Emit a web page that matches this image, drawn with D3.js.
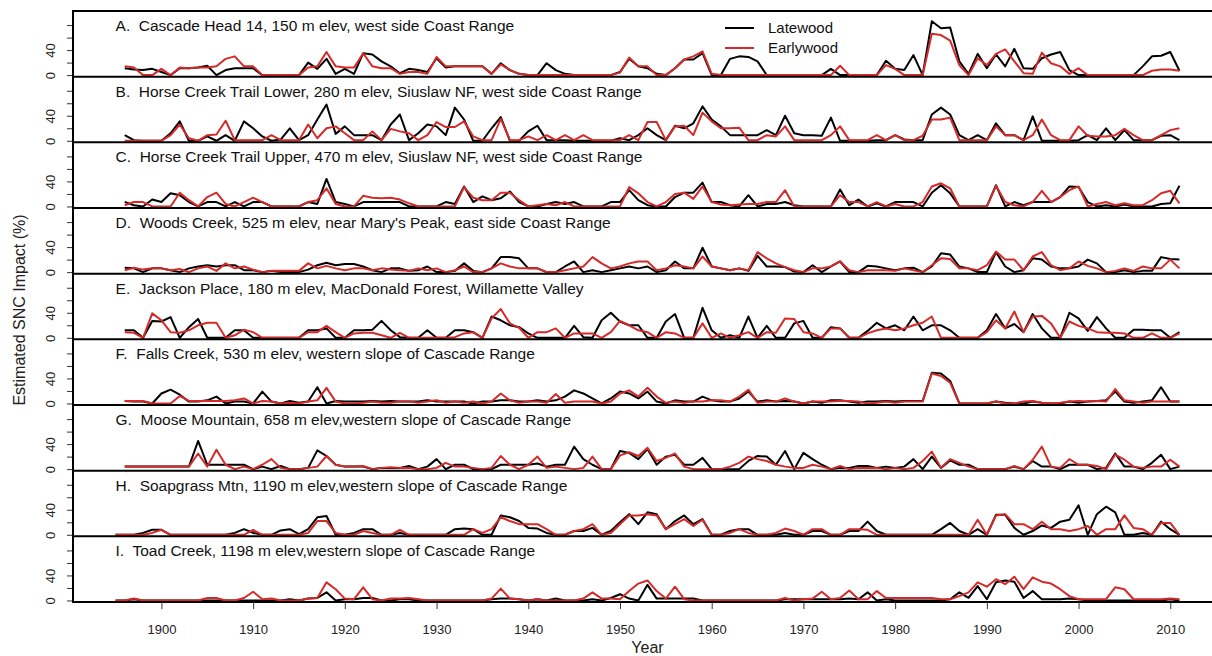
<!DOCTYPE html>
<html lang="en">
<head>
<meta charset="UTF-8">
<title>Estimated SNC Impact</title>
<script src="https://d3js.org/d3.v7.min.js"></script>
<style>
  body { margin: 0; background: #fff; }
  svg { display: block; font-family: "Liberation Sans", Arial, sans-serif; }
</style>
</head>
<body>
<div id="chart"></div>
<script>
// years run 1895..2011, one value per year (null = no ring data yet)
const firstYear = 1895;
const lastYear = 2011;
const xTicks = [1900, 1910, 1920, 1930, 1940, 1950, 1960, 1970, 1980, 1990, 2000, 2010];
const yTicks = [0, 20, 40, 60, 80];
const yLabelled = [0, 40];
const seriesNames = ["Latewood", "Earlywood"];

const titles = [
  "A.  Cascade Head 14, 150 m elev, west side Coast Range",
  "B.  Horse Creek Trail Lower, 280 m elev, Siuslaw NF, west side Coast Range",
  "C.  Horse Creek Trail Upper, 470 m elev, Siuslaw NF, west side Coast Range",
  "D.  Woods Creek, 525 m elev, near Mary's Peak, east side Coast Range",
  "E.  Jackson Place, 180 m elev, MacDonald Forest, Willamette Valley",
  "F.  Falls Creek, 530 m elev, western slope of Cascade Range",
  "G.  Moose Mountain, 658 m elev,western slope of Cascade Range",
  "H.  Soapgrass Mtn, 1190 m elev,western slope of Cascade Range",
  "I.  Toad Creek, 1198 m elev,western slope of Cascade Range"
];

const lateA = [null, 11, 9, 8, 10,
  5, 0, 11, 11, 12, 15, 0, 8, 11, 11,
  11, 0, 0, 0, 0, 0, 20, 10, 26, 2,
  10, 2, 35, 33, 22, 14, 3, 10, 8, 5,
  27, 12, 14, 14, 14, 14, 2, 19, 8, 2,
  0, 0, 19, 8, 2, 0, 0, 0, 0, 0,
  5, 26, 14, 11, 2, 0, 11, 25, 25, 35,
  0, 0, 26, 30, 29, 22, 0, 0, 0, 0,
  0, 0, 0, 10, 0, 0, 0, 0, 0, 23,
  10, 8, 32, 0, 86, 75, 76, 22, 2, 34,
  11, 33, 14, 42, 11, 10, 27, 33, 37, 8,
  0, 0, 0, 0, 0, 0, 0, 14, 30, 31,
  37, 7];
const earlyA = [null, 14, 12, 0, 0,
  10, 0, 12, 11, 12, 12, 14, 26, 30, 14,
  14, 0, 0, 0, 0, 0, 12, 14, 37, 14,
  12, 12, 35, 14, 11, 11, 2, 5, 5, 2,
  29, 14, 14, 14, 14, 14, 2, 17, 8, 2,
  0, 0, 0, 0, 0, 0, 0, 0, 0, 0,
  4, 28, 14, 14, 0, 0, 11, 25, 30, 38,
  2, 0, 0, 0, 0, 0, 0, 0, 0, 0,
  0, 0, 0, 0, 15, 0, 0, 0, 0, 16,
  10, 0, 0, 0, 66, 64, 55, 16, 0, 27,
  16, 34, 41, 22, 3, 2, 36, 19, 14, 2,
  11, 0, 0, 0, 0, 0, 0, 0, 7, 9,
  9, 7];

const lateB = [null, 9, 1, 0, 0,
  0, 12, 31, 0, 0, 7, 0, 9, 0, 31,
  20, 7, 0, 2, 20, 1, 9, 34, 58, 11,
  23, 9, 9, 9, 1, 26, 42, 1, 12, 26,
  23, 9, 53, 34, 0, 0, 20, 38, 0, 0,
  15, 24, 1, 1, 1, 0, 0, 0, 0, 0,
  4, 1, 9, 20, 9, 1, 24, 20, 28, 55,
  34, 23, 9, 9, 9, 9, 17, 9, 40, 12,
  9, 9, 8, 37, 0, 0, 0, 0, 1, 1,
  9, 2, 1, 1, 42, 53, 42, 9, 1, 9,
  1, 28, 9, 9, 1, 39, 0, 0, 0, 0,
  1, 9, 1, 20, 1, 17, 1, 1, 1, 8,
  9, 1];
const earlyB = [null, 0, 0, 0, 0,
  0, 9, 26, 4, 0, 9, 10, 32, 1, 1,
  1, 1, 9, 1, 1, 1, 26, 4, 20, 23,
  12, 1, 1, 15, 1, 19, 15, 12, 1, 9,
  30, 22, 22, 31, 7, 1, 1, 35, 1, 1,
  7, 1, 9, 1, 9, 1, 9, 1, 1, 1,
  1, 9, 1, 30, 30, 1, 23, 24, 9, 45,
  31, 20, 20, 21, 1, 1, 9, 7, 23, 1,
  1, 1, 1, 9, 23, 1, 1, 1, 9, 1,
  9, 1, 1, 8, 34, 34, 37, 1, 1, 1,
  1, 23, 9, 9, 1, 9, 34, 9, 1, 1,
  23, 8, 7, 7, 9, 19, 9, 1, 1, 9,
  17, 20];

const lateC = [null, 7, 2, 0, 11,
  7, 21, 18, 7, 0, 7, 7, 0, 7, 0,
  7, 7, 0, 0, 0, 0, 7, 4, 44, 7,
  4, 0, 7, 7, 7, 7, 7, 0, 0, 0,
  0, 7, 4, 32, 7, 16, 10, 13, 24, 7,
  0, 0, 4, 7, 4, 7, 0, 0, 0, 7,
  7, 26, 10, 2, 0, 0, 15, 22, 22, 38,
  7, 7, 2, 0, 18, 0, 4, 4, 7, 2,
  0, 0, 0, 0, 27, 2, 11, 0, 5, 0,
  7, 7, 7, 0, 22, 34, 21, 0, 0, 0,
  0, 34, 0, 7, 2, 7, 7, 7, 15, 32,
  31, 7, 0, 2, 0, 3, 0, 0, 0, 4,
  5, 33];
const earlyC = [null, 2, 7, 7, 0,
  0, 0, 22, 10, 0, 15, 22, 4, 0, 7,
  14, 7, 0, 0, 0, 0, 7, 10, 29, 4,
  0, 0, 17, 14, 13, 14, 11, 5, 0, 0,
  0, 0, 0, 31, 14, 10, 10, 22, 22, 10,
  0, 2, 4, 2, 7, 0, 0, 0, 0, 0,
  0, 31, 21, 7, 0, 7, 20, 22, 12, 32,
  7, 3, 2, 3, 4, 4, 7, 7, 26, 0,
  0, 0, 0, 0, 18, 7, 7, 0, 7, 0,
  4, 0, 0, 7, 32, 37, 29, 0, 0, 0,
  0, 33, 7, 2, 0, 7, 25, 7, 15, 26,
  32, 0, 4, 7, 2, 5, 2, 2, 10, 21,
  25, 5];

const lateD = [null, 7, 6, 0, 6,
  6, 3, 0, 6, 9, 11, 9, 11, 11, 3,
  3, 0, 2, 0, 0, 0, 4, 11, 15, 11,
  13, 13, 9, 3, 0, 6, 6, 2, 3, 9,
  0, 0, 2, 14, 2, 0, 6, 24, 24, 22,
  6, 6, 0, 0, 9, 17, 0, 3, 0, 3,
  6, 9, 6, 9, 0, 3, 17, 6, 6, 39,
  9, 6, 3, 6, 2, 26, 9, 9, 8, 1,
  0, 11, 0, 9, 17, 0, 0, 10, 9, 6,
  3, 6, 7, 0, 9, 30, 28, 9, 6, 0,
  0, 32, 9, 0, 3, 22, 20, 9, 6, 6,
  9, 20, 14, 0, 0, 3, 0, 2, 2, 24,
  21, 20];
const earlyD = [null, 3, 7, 4, 6,
  6, 3, 5, 0, 6, 9, 2, 14, 6, 9,
  4, 0, 2, 2, 2, 2, 14, 6, 10, 6,
  3, 6, 6, 3, 6, 4, 3, 2, 6, 3,
  6, 0, 3, 9, 0, 0, 6, 14, 9, 6,
  6, 6, 0, 0, 3, 6, 9, 24, 14, 6,
  9, 14, 17, 17, 3, 6, 11, 9, 6, 25,
  9, 6, 3, 6, 3, 32, 22, 14, 8, 3,
  0, 6, 6, 9, 17, 3, 0, 3, 3, 3,
  2, 6, 3, 0, 11, 22, 21, 6, 6, 3,
  11, 33, 20, 20, 3, 25, 32, 11, 3, 6,
  17, 10, 6, 0, 2, 6, 2, 9, 6, 6,
  20, 6];

const lateE = [null, 12, 12, 0, 27,
  26, 33, 0, 17, 30, 0, 0, 0, 12, 12,
  0, 0, 0, 0, 0, 0, 12, 12, 15, 0,
  0, 12, 12, 13, 27, 12, 1, 0, 0, 12,
  0, 0, 12, 12, 9, 0, 34, 28, 20, 17,
  7, 0, 0, 0, 0, 19, 1, 0, 28, 40,
  26, 20, 20, 0, 0, 26, 38, 0, 0, 48,
  12, 0, 4, 0, 34, 0, 19, 0, 0, 23,
  27, 0, 0, 17, 15, 0, 0, 11, 24, 15,
  20, 12, 34, 12, 20, 20, 12, 0, 0, 0,
  12, 38, 15, 22, 9, 38, 15, 0, 0, 40,
  31, 11, 33, 15, 0, 0, 13, 13, 12, 12,
  0, 9];
const earlyE = [null, 9, 8, 0, 39,
  28, 9, 8, 12, 20, 24, 24, 0, 4, 13,
  9, 0, 0, 0, 0, 0, 9, 9, 19, 9,
  0, 7, 8, 8, 4, 0, 8, 0, 0, 0,
  0, 0, 1, 7, 9, 0, 31, 46, 23, 16,
  0, 9, 9, 15, 0, 7, 7, 7, 0, 9,
  27, 20, 12, 9, 0, 9, 7, 0, 0, 23,
  0, 7, 0, 4, 9, 0, 9, 8, 31, 30,
  9, 7, 0, 15, 15, 0, 0, 7, 12, 15,
  12, 15, 20, 24, 34, 0, 0, 0, 0, 0,
  9, 28, 15, 42, 9, 34, 35, 23, 0, 26,
  19, 15, 9, 8, 8, 7, 0, 0, 7, 0,
  0, 7];

const lateF = [null, 4, 3, 3, 0,
  16, 22, 14, 3, 3, 5, 11, 0, 3, 3,
  0, 19, 3, 0, 4, 1, 3, 26, 0, 4,
  3, 3, 3, 4, 3, 4, 3, 3, 3, 5,
  3, 3, 3, 3, 0, 3, 3, 5, 5, 3,
  3, 5, 3, 5, 11, 21, 16, 8, 0, 8,
  19, 16, 8, 19, 3, 0, 5, 3, 3, 11,
  5, 3, 3, 8, 19, 3, 5, 3, 4, 3,
  0, 3, 1, 5, 5, 3, 1, 3, 3, 4,
  3, 4, 4, 4, 49, 48, 36, 0, 0, 0,
  0, 3, 1, 0, 0, 3, 1, 0, 0, 3,
  1, 3, 4, 5, 19, 3, 1, 3, 5, 26,
  3, 3];
const earlyF = [null, 4, 4, 4, 0,
  0, 0, 12, 4, 4, 4, 4, 4, 5, 8,
  0, 4, 3, 0, 1, 0, 3, 5, 25, 3,
  0, 0, 1, 3, 1, 1, 3, 3, 1, 3,
  5, 1, 3, 1, 3, 0, 3, 16, 5, 1,
  3, 3, 1, 15, 1, 3, 3, 3, 0, 3,
  16, 21, 11, 25, 11, 1, 3, 1, 3, 3,
  5, 5, 3, 11, 22, 1, 3, 3, 8, 3,
  0, 3, 3, 3, 4, 4, 3, 0, 1, 3,
  1, 3, 3, 3, 48, 44, 33, 0, 0, 0,
  0, 3, 0, 0, 3, 4, 1, 0, 1, 3,
  4, 3, 4, 3, 23, 5, 3, 1, 3, 3,
  3, 3];

const lateG = [null, 4, 4, 4, 4,
  4, 4, 4, 4, 45, 7, 7, 7, 7, 7,
  0, 4, 0, 5, 0, 0, 2, 30, 21, 7,
  4, 4, 4, 0, 2, 2, 2, 5, 0, 4,
  16, 0, 7, 7, 0, 0, 0, 7, 7, 7,
  7, 9, 4, 7, 7, 36, 16, 7, 0, 0,
  29, 26, 16, 32, 7, 20, 23, 7, 7, 18,
  0, 0, 0, 0, 13, 21, 20, 7, 29, 0,
  26, 16, 7, 0, 2, 2, 5, 5, 2, 4,
  2, 4, 16, 0, 20, 2, 14, 7, 7, 0,
  0, 0, 0, 4, 0, 13, 4, 4, 0, 7,
  7, 7, 0, 2, 25, 4, 4, 0, 10, 23,
  0, 4];
const earlyG = [null, 4, 4, 4, 4,
  4, 4, 4, 4, 25, 4, 31, 7, 0, 4,
  0, 7, 16, 2, 0, 0, 2, 4, 21, 7,
  4, 4, 5, 0, 2, 3, 2, 2, 0, 0,
  2, 10, 4, 4, 2, 0, 2, 21, 7, 0,
  7, 20, 2, 4, 2, 0, 2, 20, 0, 0,
  22, 27, 21, 34, 13, 18, 25, 4, 0, 0,
  0, 0, 4, 10, 20, 16, 13, 7, 4, 2,
  2, 7, 4, 0, 5, 0, 2, 2, 2, 0,
  2, 0, 2, 13, 28, 2, 16, 10, 4, 0,
  0, 0, 0, 5, 0, 15, 36, 4, 2, 16,
  7, 7, 5, 0, 23, 15, 4, 2, 4, 4,
  15, 4];

const lateH = [0, 0, 0, 3, 8,
  8, 0, 0, 0, 0, 0, 0, 0, 3, 9,
  3, 0, 0, 7, 9, 1, 9, 28, 30, 0,
  0, 3, 9, 9, 0, 0, 3, 0, 0, 0,
  0, 0, 9, 10, 9, 0, 0, 31, 28, 22,
  11, 10, 3, 0, 0, 6, 6, 11, 0, 6,
  20, 33, 17, 36, 33, 9, 22, 31, 17, 25,
  0, 0, 6, 9, 9, 0, 0, 0, 3, 0,
  0, 6, 6, 0, 0, 6, 6, 21, 6, 0,
  0, 0, 0, 0, 0, 9, 19, 6, 0, 9,
  0, 32, 32, 11, 0, 6, 15, 11, 21, 24,
  47, 0, 33, 45, 36, 0, 0, 3, 0, 21,
  9, 0];
const earlyH = [0, 0, 0, 0, 3,
  8, 0, 0, 0, 0, 0, 0, 0, 0, 0,
  8, 0, 0, 0, 0, 0, 3, 22, 22, 3,
  0, 0, 6, 3, 0, 0, 8, 0, 0, 0,
  0, 0, 0, 0, 9, 3, 9, 28, 22, 17,
  17, 17, 9, 0, 0, 6, 9, 17, 0, 3,
  17, 31, 31, 33, 31, 9, 17, 25, 14, 24,
  0, 0, 3, 9, 3, 0, 0, 3, 10, 6,
  0, 9, 9, 0, 0, 9, 9, 8, 0, 0,
  0, 0, 0, 0, 0, 0, 0, 0, 0, 24,
  0, 31, 33, 17, 17, 9, 21, 9, 9, 6,
  9, 14, 0, 9, 9, 31, 11, 9, 0, 19,
  19, 0];

const lateI = [0, 0, 2, 0, 0,
  0, 0, 0, 0, 0, 0, 0, 0, 0, 0,
  0, 0, 0, 0, 2, 0, 3, 4, 13, 0,
  2, 2, 4, 4, 0, 0, 2, 2, 0, 0,
  0, 0, 0, 0, 0, 0, 2, 3, 3, 2,
  0, 2, 0, 3, 0, 0, 0, 2, 0, 4,
  10, 3, 0, 25, 3, 3, 3, 3, 3, 0,
  0, 0, 0, 0, 0, 0, 0, 0, 2, 2,
  2, 2, 2, 2, 2, 3, 2, 13, 0, 2,
  0, 0, 0, 0, 0, 0, 2, 13, 4, 23,
  2, 29, 32, 30, 4, 15, 2, 2, 2, 3,
  2, 0, 0, 0, 0, 0, 0, 0, 0, 0,
  2, 0];
const earlyI = [0, 0, 3, 0, 0,
  0, 0, 0, 0, 0, 4, 4, 0, 0, 4,
  14, 2, 3, 0, 0, 0, 3, 4, 29, 18,
  3, 2, 21, 2, 0, 3, 3, 4, 2, 0,
  0, 0, 0, 0, 0, 0, 3, 19, 3, 2,
  0, 2, 0, 0, 0, 0, 3, 13, 3, 3,
  2, 15, 27, 32, 15, 3, 22, 2, 0, 0,
  0, 0, 0, 0, 0, 0, 0, 0, 4, 0,
  2, 3, 14, 2, 4, 16, 2, 2, 15, 4,
  4, 4, 4, 4, 4, 2, 2, 7, 13, 29,
  22, 34, 26, 38, 18, 37, 30, 27, 18, 7,
  2, 2, 2, 2, 21, 18, 2, 2, 2, 2,
  3, 2];

const latewood = [lateA, lateB, lateC, lateD, lateE, lateF, lateG, lateH, lateI];
const earlywood = [earlyA, earlyB, earlyC, earlyD, earlyE, earlyF, earlyG, earlyH, earlyI];
const colors = ["#000000", "#d42a2a"];

const W = 1212, H = 656;
const plotLeft = 73, plotTop = 11, panelH = 65.67;
const years = d3.range(firstYear, lastYear + 1);

// R style: axis runs 4% beyond the data on both ends (right edge falls off the picture)
const x = d3.scaleLinear().domain([1890.36, 2015.64]).range([plotLeft, 1222]);
const y = d3.scaleLinear().domain([-2.5, 102.5]).range([panelH, 0]);

const svg = d3.select("#chart").append("svg")
  .attr("width", W)
  .attr("height", H)
  .style("background", "#fff");

const line = d3.line()
  .defined(d => d.v != null)
  .x(d => x(d.year))
  .y(d => y(d.v));

titles.forEach(function (title, i) {
  const g = svg.append("g")
    .attr("transform", "translate(0," + (plotTop + i * panelH) + ")");

  // y ticks, only 0 and 40 labelled, labels parallel to axis
  const ax = g.append("g")
    .attr("transform", "translate(" + plotLeft + ",0)")
    .call(d3.axisLeft(y).tickValues(yTicks).tickSize(6)
      .tickFormat(d => yLabelled.includes(d) ? d : ""));
  ax.select(".domain").remove();
  ax.selectAll(".tick line").attr("stroke", "#333");
  ax.selectAll(".tick text")
    .attr("x", null).attr("dy", null)
    .attr("text-anchor", "middle")
    .attr("transform", "translate(-18,0) rotate(-90)")
    .style("font-size", "13px")
    .style("fill", "#222");

  [latewood[i], earlywood[i]].forEach(function (vals, k) {
    const pts = years.map((yr, j) => ({ year: yr, v: vals[j] }));
    g.append("path")
      .datum(pts)
      .attr("fill", "none")
      .attr("stroke", colors[k])
      .attr("stroke-width", 2)
      .attr("stroke-linejoin", "round")
      .attr("d", line);
  });

  g.append("text")
    .attr("x", x(1895))
    .attr("y", 20)
    .style("white-space", "pre")
    .style("font-size", "15.5px")
    .style("fill", "#111")
    .text(title);

  // panel bottom edge
  g.append("line")
    .attr("x1", plotLeft).attr("x2", W)
    .attr("y1", panelH).attr("y2", panelH)
    .attr("stroke", "#000").attr("stroke-width", 2);
});

// outer frame: top and left
svg.append("line")
  .attr("x1", plotLeft).attr("x2", W)
  .attr("y1", plotTop).attr("y2", plotTop)
  .attr("stroke", "#000").attr("stroke-width", 2);
svg.append("line")
  .attr("x1", plotLeft).attr("x2", plotLeft)
  .attr("y1", plotTop - 1).attr("y2", plotTop + 9 * panelH + 1)
  .attr("stroke", "#000").attr("stroke-width", 2);

// x axis under the last panel
const bottom = plotTop + 9 * panelH;
const xa = svg.append("g")
  .attr("transform", "translate(0," + bottom + ")")
  .call(d3.axisBottom(x).tickValues(xTicks).tickSize(7).tickPadding(16).tickFormat(d3.format("d")));
xa.select(".domain").remove();
xa.selectAll(".tick line").attr("stroke", "#333");
xa.selectAll(".tick text").style("font-size", "13px").style("fill", "#222");

svg.append("text")
  .attr("x", (plotLeft + 1222) / 2)
  .attr("y", 653)
  .attr("text-anchor", "middle")
  .style("font-size", "16px")
  .style("fill", "#222")
  .text("Year");

svg.append("text")
  .attr("transform", "translate(25,310) rotate(-90)")
  .attr("text-anchor", "middle")
  .style("font-size", "16px")
  .style("fill", "#222")
  .text("Estimated SNC Impact (%)");

// legend
const legend = svg.append("g").attr("transform", "translate(725,28)");
seriesNames.forEach(function (name, k) {
  legend.append("line")
    .attr("x1", 0).attr("x2", 29)
    .attr("y1", k * 20).attr("y2", k * 20)
    .attr("stroke", colors[k]).attr("stroke-width", 2);
  legend.append("text")
    .attr("x", 43).attr("y", k * 20 + 5)
    .style("font-size", "15px")
    .style("fill", "#111")
    .text(name);
});
</script>
</body>
</html>
